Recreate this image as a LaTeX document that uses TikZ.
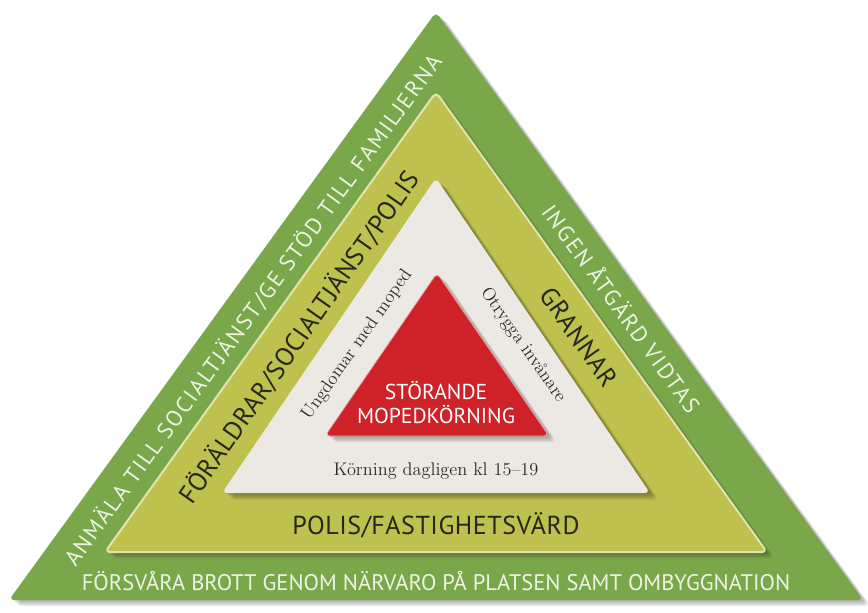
\documentclass[tikz,border=0pt]{standalone}
\usepackage{fontspec}
\setsansfont{PT Sans}

\definecolor{outergreen}{RGB}{122,167,74}
\definecolor{oliveband}{RGB}{191,193,78}
\definecolor{oliveedge}{RGB}{226,228,176}
\definecolor{paleband}{RGB}{236,233,228}
\definecolor{corered}{RGB}{206,33,40}
\definecolor{greentext}{RGB}{238,243,230}
\definecolor{olivetext}{RGB}{38,38,26}
\definecolor{paletext}{RGB}{45,42,38}

\begin{document}
\begin{tikzpicture}[x=0.75pt,y=0.75pt,
  shadowstep/.style={fill=black,opacity=0.045,rounded corners=4pt},
  layer/.style={rounded corners=4pt},
  greenlbl/.style={text=greentext,inner sep=0pt,font=\sffamily\fontsize{16.9}{18}\selectfont},
  widegreen/.style={greenlbl,font=\sffamily\fontsize{16.9}{18}\selectfont\addfontfeatures{LetterSpace=8}},
  olivelbl/.style={text=olivetext,inner sep=0pt,font=\sffamily\fontsize{19.5}{21}\selectfont\addfontfeatures{LetterSpace=2}},
  palelbl/.style={text=paletext,inner sep=0pt,font=\rmfamily\fontsize{13.7}{15}\selectfont},
  redlbl/.style={text=white,inner sep=0pt,align=center,font=\sffamily\fontsize{16.2}{18}\selectfont}]
\useasboundingbox (0,0) rectangle (868,612);
\fill[white] (0,0) rectangle (868,612);

% outer band
\foreach \s in {1,...,8}
  \fill[shadowstep,xshift=\s*0.75pt,yshift=-\s*0.6pt] (9,12) -- (436,600) -- (863,12) -- cycle;
\fill[layer,outergreen] (9,12) -- (436,600) -- (863,12) -- cycle;

% olive band
\foreach \s in {1,...,8}
  \fill[shadowstep,xshift=\s*0.75pt,yshift=-\s*0.6pt] (105,60) -- (436,520) -- (767,60) -- cycle;
\filldraw[layer,fill=oliveband,draw=oliveedge,line width=1.5pt] (105,60) -- (436,520) -- (767,60) -- cycle;

% pale band
\foreach \s in {1,...,9}
  \fill[shadowstep,xshift=\s*0.75pt,yshift=-\s*0.6pt] (222,119) -- (436,434) -- (650,119) -- cycle;
\fill[layer,paleband] (222,119) -- (436,434) -- (650,119) -- cycle;

% core
\foreach \s in {1,...,8}
  \fill[shadowstep,xshift=\s*0.75pt,yshift=-\s*0.6pt] (325,176) -- (437,339) -- (549,176) -- cycle;
\filldraw[layer,fill=corered,draw=white!60!corered,line width=0.6pt] (325,176) -- (437,339) -- (549,176) -- cycle;

% labels
\node[widegreen,rotate=54] (anmala) at (253,302) {ANMÄLA TILL SOCIALTJÄNST/GE STÖD TILL FAMILJERNA};
\node[widegreen,rotate=-54] (ingen) at (622,304) {INGEN ÅTGÄRD VIDTAS};
\node[greenlbl] (forsvara) at (436,31) {FÖRSVÅRA BROTT GENOM NÄRVARO PÅ PLATSEN SAMT OMBYGGNATION};

\node[olivelbl,rotate=55] (foraldrar) at (299,275) {FÖRÄLDRAR/SOCIALTJÄNST/POLIS};
\node[olivelbl,rotate=-55] (grannar) at (579,275) {GRANNAR};
\node[olivelbl] (polis) at (436,87) {POLIS/FASTIGHETSVÄRD};

\node[palelbl,rotate=55] (ungdomar) at (357,267) {Ungdomar med moped};
\node[palelbl,rotate=-55] (otrygga) at (523,267) {Otrygga invånare};
\node[palelbl] (korning) at (436,141) {Körning dagligen kl 15–19};

\node[redlbl] (storande) at (436,209) {STÖRANDE\\MOPEDKÖRNING};
\end{tikzpicture}
\end{document}
